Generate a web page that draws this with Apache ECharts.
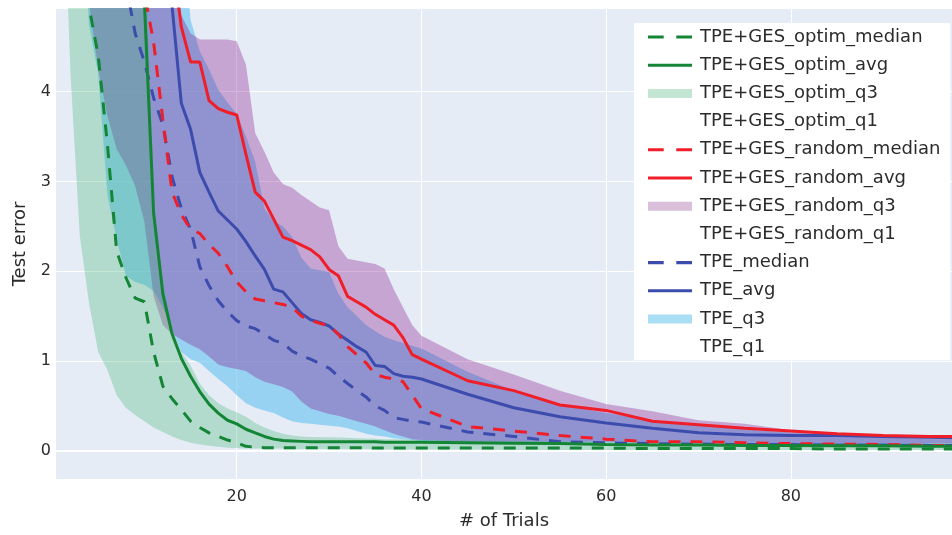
<!DOCTYPE html>
<html>
<head>
<meta charset="utf-8">
<script src="https://cdn.jsdelivr.net/npm/echarts@6/dist/echarts.min.js"></script>
<style>
  html, body { margin: 0; padding: 0; background: #fff; }
  #chart { width: 952px; height: 535px; }
</style>
</head>
<body>
<div id="chart"></div>
<script>
// trial numbers shared by every series
const trials = [1, 2, 3, 4, 5, 6, 7, 8, 9, 10, 11, 12, 13, 14, 15, 16, 17, 18, 19, 20,
  21, 22, 23, 24, 25, 26, 27, 28, 29, 30, 31, 32, 33, 34, 35, 36, 37, 38, 39, 40,
  45, 50, 55, 60, 65, 70, 75, 80, 85, 90, 95, 100]

// TPE+GES_optim
const optimMedian = [9, 7.5, 6.2, 4.95, 4.4, 3.41, 2.22, 1.93, 1.7, 1.66, 1.1, 0.72, 0.58, 0.46, 0.33, 0.26, 0.2, 0.16, 0.12, 0.09,
  0.05, 0.04, 0.035, 0.035, 0.035, 0.035, 0.035, 0.035, 0.035, 0.035, 0.035, 0.035, 0.035, 0.035, 0.03, 0.03, 0.03, 0.03, 0.03, 0.03,
  0.03, 0.03, 0.03, 0.03, 0.025, 0.025, 0.025, 0.025, 0.02, 0.02, 0.02, 0.02]
const optimAvg = [14, 13, 12, 11, 10, 9.2, 8.4, 7.6, 6.8, 5.0, 2.65, 1.75, 1.3, 1.03, 0.83, 0.66, 0.52, 0.42, 0.34, 0.3,
  0.24, 0.2, 0.16, 0.13, 0.115, 0.11, 0.105, 0.1, 0.1, 0.1, 0.1, 0.1, 0.1, 0.1, 0.1, 0.095, 0.095, 0.095, 0.095, 0.095,
  0.09, 0.085, 0.08, 0.07, 0.065, 0.065, 0.06, 0.06, 0.055, 0.055, 0.05, 0.05]
const optimQ3 = [15, 14, 13, 12, 11, 10, 9, 8, 7, 5.95, 2.75, 1.85, 1.35, 1.1, 0.95, 0.75, 0.62, 0.53, 0.47, 0.43,
  0.38, 0.31, 0.26, 0.22, 0.19, 0.17, 0.16, 0.155, 0.15, 0.15, 0.148, 0.145, 0.14, 0.138, 0.135, 0.13, 0.128, 0.125, 0.122, 0.12,
  0.115, 0.11, 0.105, 0.1, 0.095, 0.09, 0.09, 0.085, 0.085, 0.08, 0.08, 0.08]
const optimQ1 = [7, 4.2, 2.4, 1.65, 1.1, 0.9, 0.62, 0.48, 0.4, 0.33, 0.26, 0.21, 0.16, 0.12, 0.09, 0.07, 0.055, 0.045, 0.035, 0.03,
  0.025, 0.025, 0.025, 0.025, 0.025, 0.02, 0.02, 0.02, 0.02, 0.02, 0.02, 0.02, 0.02, 0.02, 0.02, 0.015, 0.015, 0.015, 0.015, 0.015,
  0.015, 0.01, 0.01, 0.01, 0.01, 0.01, 0.01, 0.01, 0.01, 0.01, 0.01, 0.01]

// TPE+GES_random
const randomMedian = [16, 15, 14, 13, 12, 10, 8, 7, 6, 5.1, 4.55, 3.69, 2.88, 2.63, 2.47, 2.42, 2.3, 2.2, 2.05, 1.88,
  1.77, 1.69, 1.67, 1.65, 1.63, 1.6, 1.5, 1.45, 1.42, 1.39, 1.3, 1.16, 1.07, 0.98, 0.85, 0.82, 0.8, 0.77, 0.62, 0.47,
  0.27, 0.22, 0.17, 0.13, 0.1, 0.1, 0.09, 0.08, 0.075, 0.07, 0.06, 0.06]
const randomAvg = [20, 19, 18, 17, 16, 15, 14, 13, 12, 10, 8.5, 7, 5.5, 4.72, 4.33, 4.33, 3.9, 3.81, 3.77, 3.74,
  3.3, 2.88, 2.78, 2.58, 2.38, 2.34, 2.29, 2.24, 2.16, 2.02, 1.95, 1.72, 1.66, 1.6, 1.52, 1.46, 1.4, 1.26, 1.07, 1.02,
  0.78, 0.67, 0.51, 0.45, 0.33, 0.29, 0.25, 0.22, 0.19, 0.17, 0.16, 0.16]
const randomQ3 = [20, 19, 18, 17, 16, 15, 14, 13, 12, 11, 10, 8, 6, 4.85, 4.65, 4.58, 4.58, 4.58, 4.58, 4.56,
  4.3, 3.54, 3.33, 3.1, 2.97, 2.93, 2.85, 2.78, 2.71, 2.68, 2.28, 2.14, 2.12, 2.1, 2.08, 2.03, 1.8, 1.6, 1.4, 1.28,
  1.02, 0.85, 0.67, 0.52, 0.44, 0.34, 0.3, 0.23, 0.18, 0.17, 0.16, 0.16]
const randomQ1 = [12, 9, 6.5, 5.0, 4.25, 3.73, 3.36, 3.18, 2.95, 2.55, 1.72, 1.4, 1.3, 1.24, 1.18, 1.13, 1.05, 0.96, 0.93, 0.91,
  0.89, 0.82, 0.77, 0.74, 0.71, 0.66, 0.55, 0.47, 0.44, 0.41, 0.39, 0.36, 0.33, 0.3, 0.27, 0.23, 0.19, 0.16, 0.13, 0.12,
  0.1, 0.1, 0.1, 0.1, 0.095, 0.09, 0.09, 0.085, 0.085, 0.08, 0.08, 0.08]

// TPE
const tpeMedian = [14, 12, 10, 8.5, 7.5, 6.6, 6, 5.2, 4.65, 4.33, 3.93, 3.63, 3.05, 2.7, 2.47, 2.05, 1.84, 1.67, 1.55, 1.45,
  1.39, 1.36, 1.3, 1.23, 1.2, 1.11, 1.06, 1.02, 0.97, 0.92, 0.83, 0.75, 0.67, 0.6, 0.5, 0.45, 0.37, 0.35, 0.33, 0.32,
  0.21, 0.16, 0.1, 0.09, 0.08, 0.075, 0.07, 0.07, 0.065, 0.065, 0.06, 0.06]
const tpeAvg = [20, 19, 18, 17, 16, 15, 14, 13, 12, 10, 8, 6, 4.95, 3.87, 3.58, 3.1, 2.88, 2.67, 2.57, 2.47,
  2.33, 2.17, 2.02, 1.8, 1.77, 1.65, 1.53, 1.46, 1.43, 1.39, 1.3, 1.23, 1.16, 1.1, 0.95, 0.94, 0.86, 0.83, 0.82, 0.8,
  0.63, 0.48, 0.38, 0.31, 0.25, 0.2, 0.18, 0.17, 0.17, 0.16, 0.15, 0.14]
const tpeQ3 = [20, 19, 18, 17, 16, 15, 14, 13, 12, 11, 10, 9, 8, 6, 4.8, 4.45, 4.25, 4.02, 3.88, 3.75,
  3.5, 3.22, 2.7, 2.56, 2.5, 2.38, 2.15, 2.03, 2.01, 1.99, 1.75, 1.6, 1.5, 1.4, 1.33, 1.27, 1.23, 1.2, 1.17, 1.14,
  0.88, 0.67, 0.51, 0.42, 0.34, 0.29, 0.24, 0.2, 0.17, 0.15, 0.13, 0.12]
const tpeQ1 = [12, 9, 6.5, 4.75, 4.2, 2.85, 2.35, 1.95, 1.88, 1.85, 1.78, 1.6, 1.35, 1.1, 1.02, 0.98, 0.89, 0.8, 0.72, 0.62,
  0.53, 0.48, 0.45, 0.42, 0.37, 0.33, 0.31, 0.3, 0.29, 0.28, 0.27, 0.25, 0.22, 0.19, 0.17, 0.16, 0.14, 0.13, 0.12, 0.11,
  0.1, 0.095, 0.09, 0.09, 0.085, 0.085, 0.08, 0.08, 0.075, 0.075, 0.07, 0.07]

const groups = [
  { key: 'TPE', stack: 'tpe', line: '#3c4cad', fill: 'rgba(110,196,240,0.65)', swatch: '#a9def5',
    median: tpeMedian, avg: tpeAvg, q3: tpeQ3, q1: tpeQ1 },
  { key: 'TPE+GES_random', stack: 'random', line: '#f01e28', fill: 'rgba(128,0,128,0.3)', swatch: '#d9bfd9',
    median: randomMedian, avg: randomAvg, q3: randomQ3, q1: randomQ1 },
  { key: 'TPE+GES_optim', stack: 'optim', line: '#138535', fill: 'rgba(60,179,113,0.3)', swatch: '#c3e6d2',
    median: optimMedian, avg: optimAvg, q3: optimQ3, q1: optimQ1 }
]

const pairs = arr => arr.map((v, i) => [trials[i], v])

// band data is written [value, trial] so that the stack runs on the value dimension
const bandSeries = []
const lineSeries = []
groups.forEach((g, gi) => {
  bandSeries.push({
    name: g.key + '_q1',
    type: 'line',
    stack: g.stack,
    encode: { x: 1, y: 0 },
    data: g.q1.map((v, i) => [v, trials[i]]),
    showSymbol: false,
    symbol: 'none',
    lineStyle: { opacity: 0 },
    markLine: gi === 0 ? {
      silent: true,
      symbol: 'none',
      z: 1,
      label: { show: false },
      lineStyle: { color: '#fff', width: 2, type: 'solid' },
      data: [{ yAxis: 0 }]
    } : undefined
  })
  bandSeries.push({
    name: g.key + '_q3',
    type: 'line',
    stack: g.stack,
    encode: { x: 1, y: 0 },
    data: g.q3.map((v, i) => [v - g.q1[i], trials[i]]),
    showSymbol: false,
    symbol: 'none',
    lineStyle: { opacity: 0 },
    areaStyle: { color: g.fill, opacity: 1 }
  })
  lineSeries.push({
    name: g.key + '_median',
    type: 'line',
    data: pairs(g.median),
    showSymbol: false,
    symbol: 'none',
    color: g.line,
    lineStyle: { color: g.line, width: 3, type: [12, 10] }
  })
  lineSeries.push({
    name: g.key + '_avg',
    type: 'line',
    data: pairs(g.avg),
    showSymbol: false,
    symbol: 'none',
    color: g.line,
    lineStyle: { color: g.line, width: 3 }
  })
})

const dashIcon = 'path://M0,0H15V3H0Z M27,0H42V3H27Z'
const solidIcon = 'path://M0,0H44V3H0Z'
const swatchIcon = 'path://M0,0H44V9H0Z'

const legendData = []
groups.slice().reverse().forEach(g => {
  legendData.push({ name: g.key + '_median', icon: dashIcon, itemStyle: { color: g.line } })
  legendData.push({ name: g.key + '_avg', icon: solidIcon, itemStyle: { color: g.line } })
  legendData.push({ name: g.key + '_q3', icon: swatchIcon, itemStyle: { color: g.swatch, opacity: 1 } })
  legendData.push({ name: g.key + '_q1', icon: 'rect', itemStyle: { color: 'rgba(0,0,0,0)', opacity: 0 } })
})

const textColor = '#2b2b2b'
const font = 'DejaVu Sans'

const chart = echarts.init(document.getElementById('chart'), null, { renderer: 'canvas' })
chart.setOption({
  animation: false,
  backgroundColor: '#fff',
  grid: {
    left: 56, right: 0, top: 9, bottom: 55,
    show: true, backgroundColor: '#e5ecf6', borderWidth: 0
  },
  legend: {
    orient: 'vertical',
    left: 634, top: 23,
    padding: [5, 10, 4, 14],
    backgroundColor: '#fff',
    itemWidth: 44, itemHeight: 14, itemGap: 10.2,
    symbolKeepAspect: true,
    selectedMode: false,
    textStyle: { fontSize: 18, fontFamily: font, color: textColor, padding: [0, 0, 0, 3] },
    data: legendData
  },
  xAxis: {
    type: 'value',
    min: 0.43, max: 97.45,
    splitNumber: 5,
    name: '# of Trials',
    nameLocation: 'middle',
    nameGap: 33,
    nameTextStyle: { fontSize: 18, fontFamily: font, color: textColor },
    axisLine: { show: false },
    axisTick: { show: false },
    axisLabel: { fontSize: 16, fontFamily: font, color: textColor, margin: 10, showMinLabel: false, showMaxLabel: false },
    splitLine: { show: true, showMinLine: false, showMaxLine: false, lineStyle: { color: '#fff', width: 1 } }
  },
  yAxis: {
    type: 'value',
    min: -0.314, max: 4.92,
    splitNumber: 5,
    name: 'Test error',
    nameLocation: 'middle',
    nameGap: 27,
    nameTextStyle: { fontSize: 18, fontFamily: font, color: textColor },
    axisLine: { show: false },
    axisTick: { show: false },
    axisLabel: { fontSize: 16, fontFamily: font, color: textColor, margin: 5, showMinLabel: false, showMaxLabel: false },
    splitLine: { show: true, showMinLine: false, showMaxLine: false, lineStyle: { color: '#fff', width: 1 } }
  },
  series: bandSeries.concat(lineSeries)
})
</script>
</body>
</html>
